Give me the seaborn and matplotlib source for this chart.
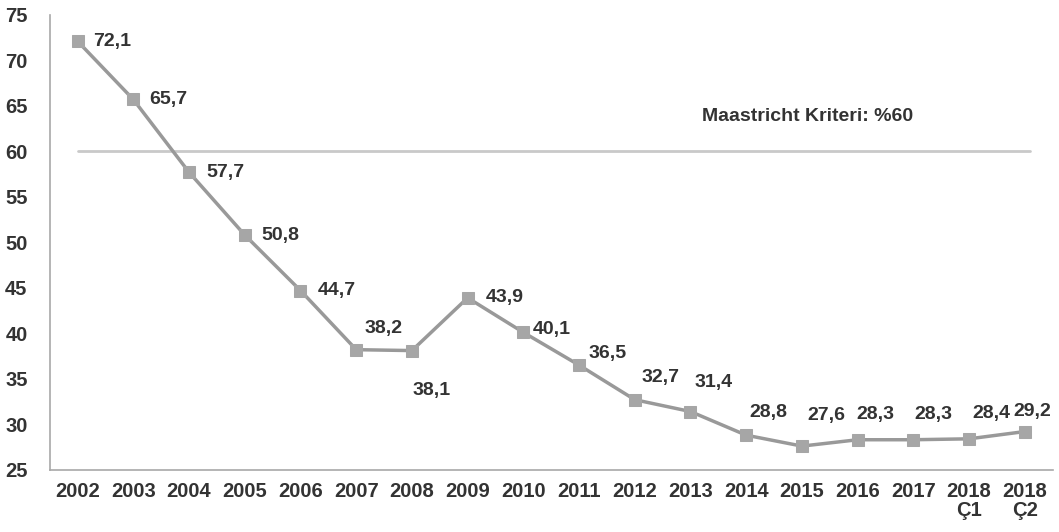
import numpy as np
import pandas as pd
import matplotlib
matplotlib.use('Agg')
import matplotlib.pyplot as plt
import seaborn as sns

sns.set_style('white')
plt.rcParams['font.family'] = ['Liberation Sans', 'DejaVu Sans']

# veri
years = ['2002', '2003', '2004', '2005', '2006', '2007', '2008', '2009', '2010',
         '2011', '2012', '2013', '2014', '2015', '2016', '2017', '2018\nÇ1', '2018\nÇ2']
debt = [72.1, 65.7, 57.7, 50.8, 44.7, 38.2, 38.1, 43.9, 40.1,
        36.5, 32.7, 31.4, 28.8, 27.6, 28.3, 28.3, 28.4, 29.2]
maastricht = 60
maastricht_label = 'Maastricht Kriteri: %60'

# etiket yerleşimi (piksel ofseti, hizalama)
label_pos = [(15, 0, 'left'), (16, 0, 'left'), (17, 0, 'left'), (17, 0, 'left'),
             (17, 0, 'left'), (27, 21, 'center'), (20, -40, 'center'), (18, 0, 'left'),
             (9, 3, 'left'), (9, 12, 'left'), (7, 22, 'left'), (23, 29, 'center'),
             (22, 23, 'center'), (24, 31, 'center'), (18, 25, 'center'), (20, 25, 'center'),
             (22, 25, 'center'), (7, 20, 'center')]

df = pd.DataFrame({'pos': np.arange(len(years)), 'debt': debt})

fig = plt.figure(figsize=(10.59, 5.32), dpi=100)
ax = fig.add_axes([0.047, 0.117, 0.947, 0.855])

# Maastricht çizgisi
ax.plot([0, 17.1], [maastricht, maastricht], color='#c9c9c9', lw=2, zorder=1)
ax.text(11.2, 63.8, maastricht_label, fontsize=14, fontweight='bold',
        color='#333333', ha='left', va='center')

sns.lineplot(data=df, x='pos', y='debt', ax=ax, color='#999999', lw=2.5,
             marker='s', markersize=9, markerfacecolor='#a6a6a6',
             markeredgecolor='#a6a6a6', zorder=3)

for i, (v, (dx, dy, ha)) in enumerate(zip(debt, label_pos)):
    ax.annotate(f'{v:.1f}'.replace('.', ','), (i, v), xytext=(dx, dy),
                textcoords='offset pixels', ha=ha, va='center',
                fontsize=14, fontweight='bold', color='#333333')

ax.set_xlim(-0.5, len(years) - 0.5)
ax.set_ylim(25, 75)
ax.set_yticks(range(25, 80, 5))
ax.set_xticks(range(len(years)))
ax.set_xticklabels(years)
ax.set_xticks(np.arange(0.5, len(years) - 0.5, 1), minor=True)
ax.tick_params(axis='x', which='major', length=0, pad=9)
ax.tick_params(axis='x', which='minor', length=4, color='#999999', direction='out')
ax.tick_params(axis='y', length=4, color='#999999', direction='out', pad=12)
for lab in ax.get_xticklabels() + ax.get_yticklabels():
    lab.set_fontweight('bold')
    lab.set_fontsize(14.5)
    lab.set_color('#333333')
for lab in ax.get_xticklabels():
    lab.set_linespacing(0.95)
ax.set_xlabel('')
ax.set_ylabel('')

sns.despine(ax=ax)
for s in ['left', 'bottom']:
    ax.spines[s].set_color('#a8a8a8')
    ax.spines[s].set_linewidth(1.2)

plt.savefig('out.png', dpi=100)
